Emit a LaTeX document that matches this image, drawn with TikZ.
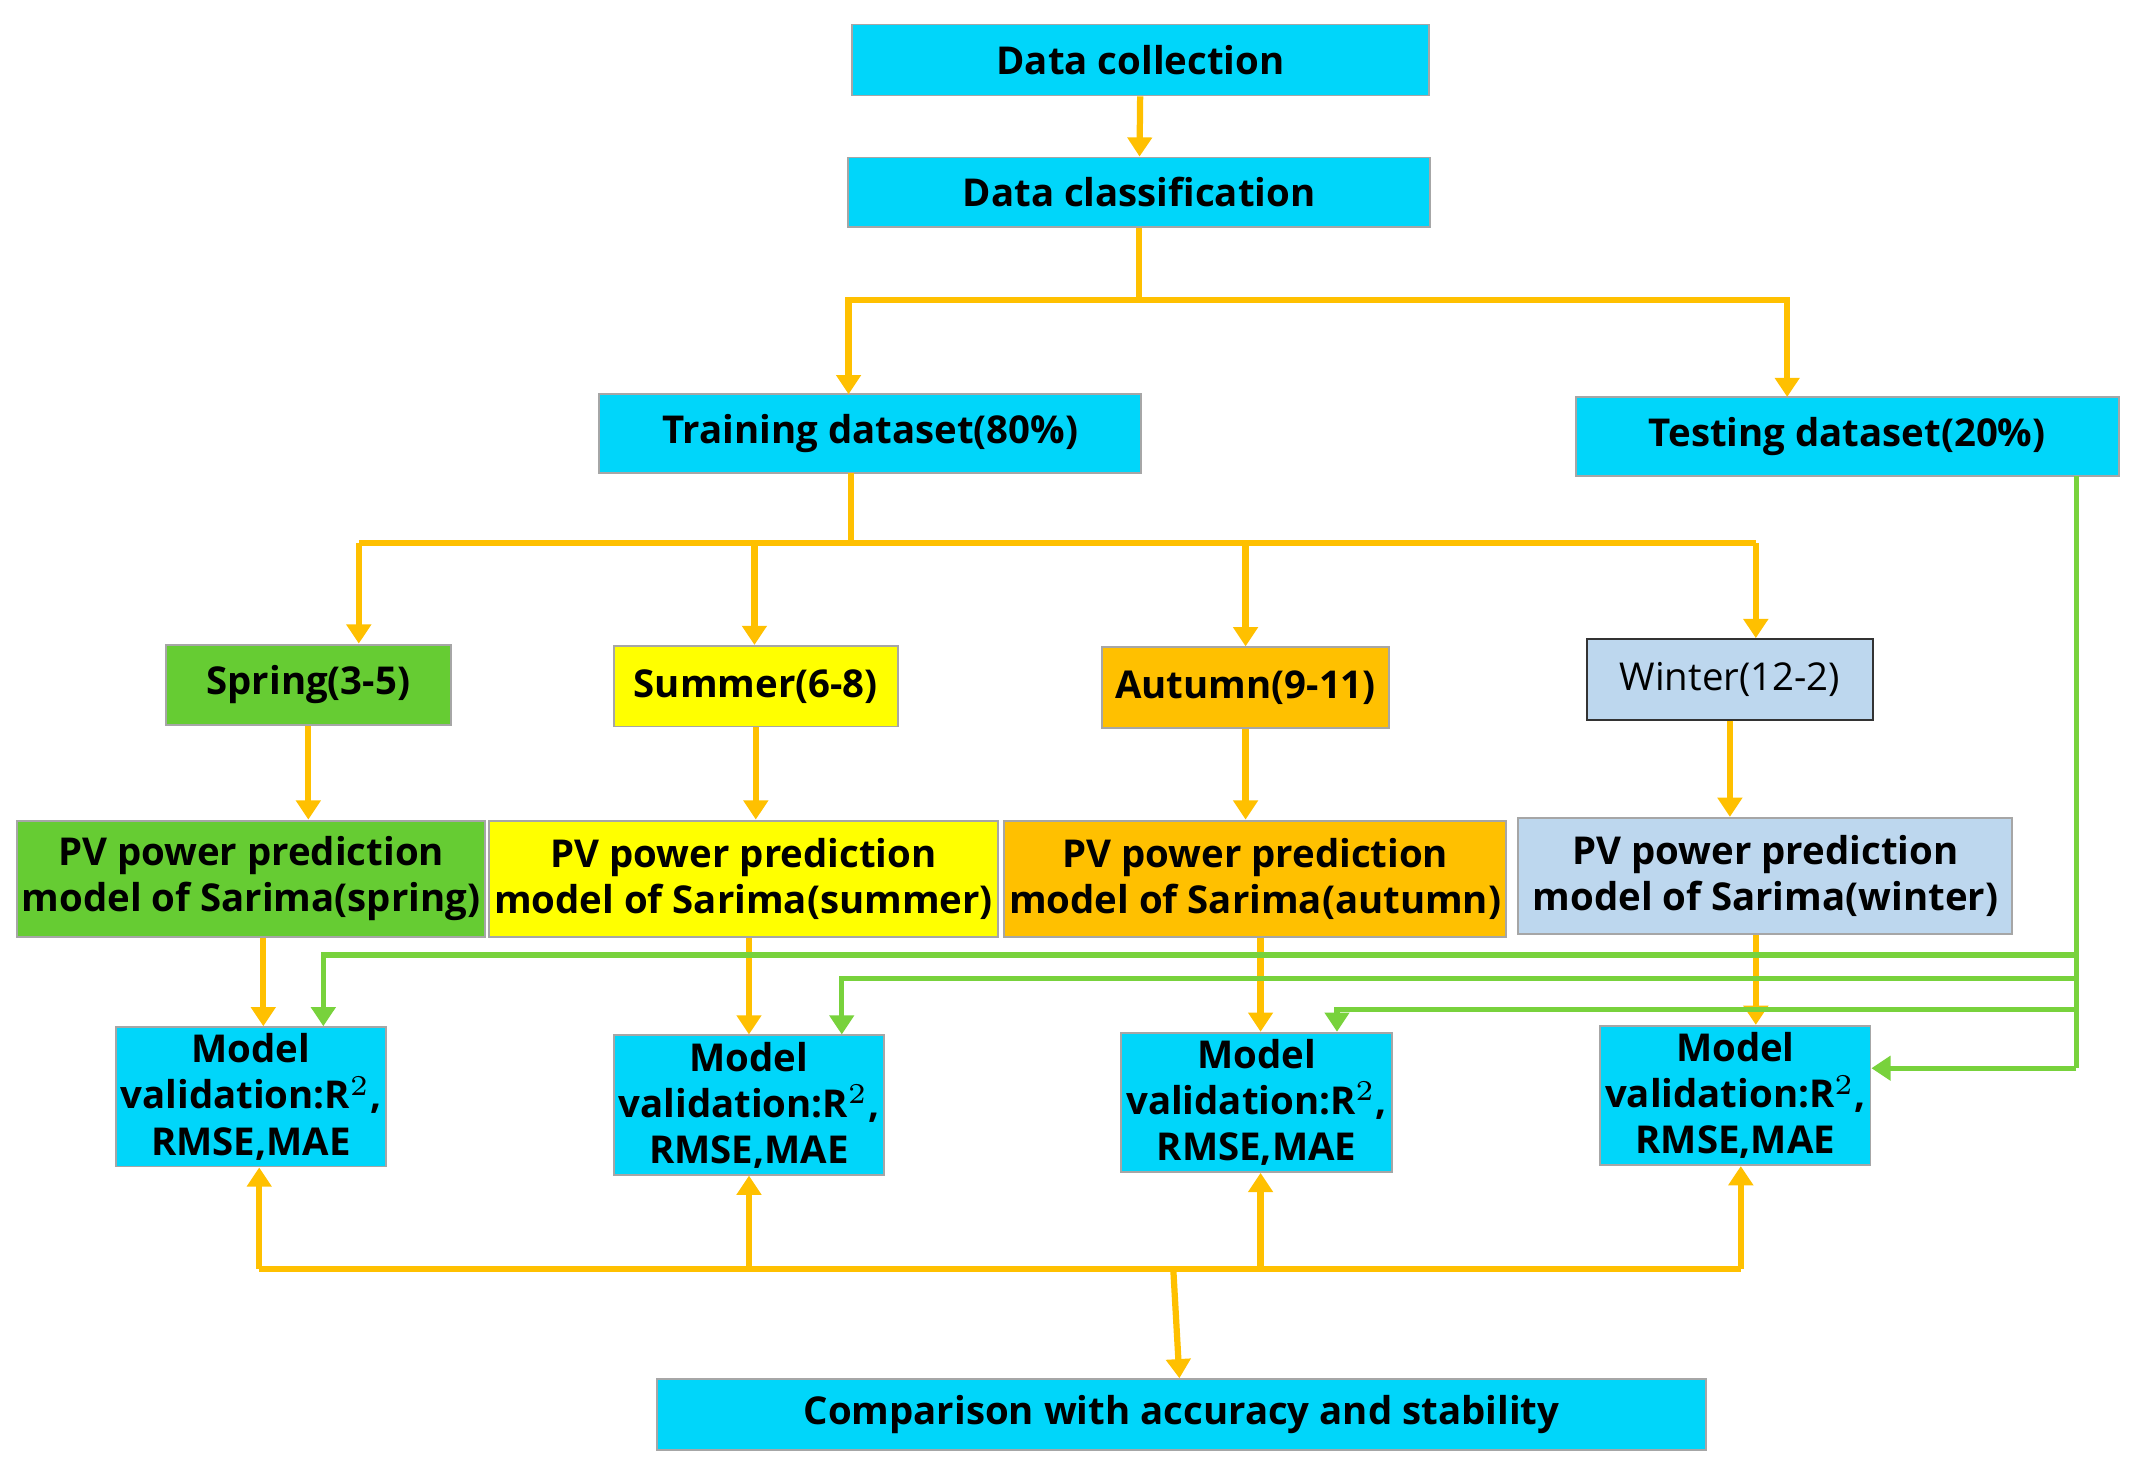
\documentclass[tikz,border=0pt]{standalone}
\usepackage{fontspec}
\setmainfont{Open Sans}
\usetikzlibrary{arrows.meta}
\definecolor{cyanbox}{RGB}{0,214,250}
\definecolor{springgreen}{RGB}{102,204,51}
\definecolor{summeryellow}{RGB}{255,255,0}
\definecolor{autumnorange}{RGB}{255,192,0}
\definecolor{winterblue}{RGB}{189,215,238}
\definecolor{flowline}{RGB}{255,192,0}
\definecolor{testline}{RGB}{120,210,60}
\tikzset{
  box/.style={draw=gray!70, fill=cyanbox, font=\bfseries\fontsize{8}{9.6}\selectfont, align=center, inner sep=1pt},
  flow/.style={flowline, line width=1.3pt, -{Triangle[length=4pt,width=5pt]}},
  link/.style={flowline, line width=1.3pt},
  test/.style={testline, line width=1.1pt, -{Triangle[length=4pt,width=5pt]}},
  testlink/.style={testline, line width=1.1pt}
}
\begin{document}
\begin{tikzpicture}[x=0.01cm,y=-0.01cm]
    \useasboundingbox (0,0) rectangle (1562,1074);
    % boxes
    \node[box, minimum width=4.23cm, minimum height=0.52cm] (collect) at (836,44) {Data collection};
    \node[box, minimum width=4.26cm, minimum height=0.51cm] (classify) at (835,141) {Data classification};
    \node[box, minimum width=3.97cm, minimum height=0.58cm] (train) at (638,318) {Training dataset(80\%)};
    \node[box, minimum width=3.98cm, minimum height=0.58cm] (test) at (1354,320) {Testing dataset(20\%)};
    \node[box, fill=springgreen, minimum width=2.09cm, minimum height=0.59cm] (spring) at (226,502) {Spring(3-5)};
    \node[box, fill=summeryellow, minimum width=2.08cm, minimum height=0.59cm] (summer) at (554,503) {Summer(6-8)};
    \node[box, fill=autumnorange, minimum width=2.10cm, minimum height=0.59cm] (autumn) at (913,504) {Autumn(9-11)};
    \node[box, draw=black!80, fill=winterblue, font=\fontsize{8}{9.6}\selectfont, minimum width=2.09cm, minimum height=0.59cm] (winter) at (1268,498) {Winter(12-2)};
    \node[box, fill=springgreen, minimum width=3.41cm, minimum height=0.85cm] (pvspring) at (184,644) {PV power prediction\\model of Sarima(spring)};
    \node[box, fill=summeryellow, minimum width=3.63cm, minimum height=0.85cm] (pvsummer) at (545,644) {PV power prediction\\model of Sarima(summer)};
    \node[box, fill=autumnorange, minimum width=3.63cm, minimum height=0.85cm] (pvautumn) at (920,644) {PV power prediction\\model of Sarima(autumn)};
    \node[box, fill=winterblue, minimum width=3.62cm, minimum height=0.85cm] (pvwinter) at (1294,642) {PV power prediction\\model of Sarima(winter)};
    \node[box, minimum width=1.95cm, minimum height=1.02cm] (mvspring) at (184,804) {Model\\validation:R$^2$,\\RMSE,MAE};
    \node[box, minimum width=1.95cm, minimum height=1.02cm] (mvsummer) at (549,810) {Model\\validation:R$^2$,\\RMSE,MAE};
    \node[box, minimum width=1.95cm, minimum height=1.02cm] (mvautumn) at (921,808) {Model\\validation:R$^2$,\\RMSE,MAE};
    \node[box, minimum width=1.95cm, minimum height=1.02cm] (mvwinter) at (1272,803) {Model\\validation:R$^2$,\\RMSE,MAE};
    \node[box, minimum width=7.69cm, minimum height=0.52cm] (compare) at (866,1037) {Comparison with accuracy and stability};
    % junctions
    \coordinate (split) at (classify.south |- 0,220);
    \coordinate (seasons) at (624,398);
    \coordinate (gather) at (860,930);
    \coordinate (testdown) at (1522,349);
    % orange flow
    \draw[flow] (collect) -- (classify);
    \draw[link] (classify) -- (split);
    \draw[flow] (split) -| (622,289);
    \draw[flow] (split) -| (1310,291);
    \draw[link] (624,347) -- (seasons);
    \draw[link] (263,398) -- (1287,398);
    \foreach \x/\s in {263/spring, 553/summer, 913/autumn, 1287/winter}
        \draw[flow] (\x,398) -- (\s.north -| \x,0);
    \foreach \s in {spring, summer, autumn, winter}
        \draw[flow] (\s) -- (pv\s.north -| \s.south);
    \foreach \x/\s in {193/spring, 549/summer, 924/autumn, 1287/winter}
        \draw[flow] (pv\s.south -| \x,0) -- (mv\s.north -| \x,0);
    \draw[link] (190,930) -- (1276,930);
    \foreach \x/\s in {190/spring, 549/summer, 924/autumn, 1276/winter}
        \draw[flow] (\x,930) -- (mv\s.south -| \x,0);
    \draw[flow] (gather) -- (compare);
    % green test links
    \draw[testlink] (testdown) -- (1522,783);
    \draw[test] (1522,783) -- (mvwinter.east |- 0,783);
    \draw[test] (1522,700) -| (mvspring.north -| 237,0);
    \draw[test] (1522,717) -| (mvsummer.north -| 617,0);
    \draw[test] (1522,740) -| (mvautumn.north -| 980,0);
\end{tikzpicture}
\end{document}
